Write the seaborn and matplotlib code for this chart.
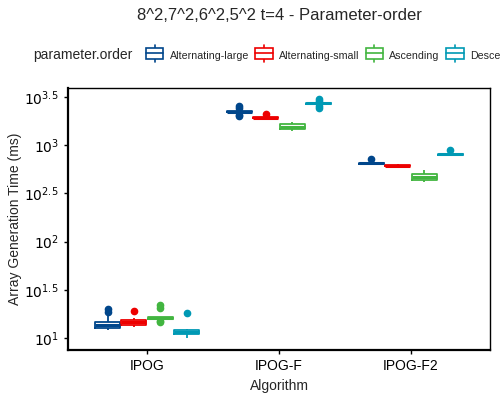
import numpy as np
import pandas as pd
import matplotlib
matplotlib.use("Agg")
import matplotlib.pyplot as plt
import seaborn as sns
from matplotlib.legend_handler import HandlerBase
from matplotlib.patches import Rectangle
from matplotlib.lines import Line2D

algorithms = ["IPOG", "IPOG-F", "IPOG-F2"]
orders = ["Alternating-large", "Alternating-small", "Ascending", "Descending"]
palette = ["#00468B", "#ED0000", "#42B540", "#0099B4"]

# run times in ms, one list per (algorithm, parameter order)
ipog_alt_large = [12.1, 12.4, 12.6, 12.8, 13.2, 13.5, 13.65, 13.9, 14.2, 14.58, 17.4, 18.7, 20.0]
ipog_alt_small = [12.9, 13.4, 13.76, 14.3, 14.68, 15.0, 15.4, 16.2, 19.1]
ipog_ascending = [14.7, 15.0, 15.85, 15.9, 16.0, 16.1, 16.16, 16.2, 16.3, 16.4, 16.5, 20.5, 22.1]
ipog_descending = [10.07, 10.5, 10.93, 11.3, 11.55, 11.8, 12.12, 12.3, 18.07]

ipogf_alt_large = [2018, 2080, 2170, 2190, 2200, 2215, 2223, 2230, 2240, 2250, 2265, 2420, 2530]
ipogf_alt_small = [1880, 1895, 1905, 1915, 1925, 1935, 1945, 1960, 2103]
ipogf_ascending = [1410, 1430, 1457, 1500, 1549, 1600, 1643, 1690, 1722]
ipogf_descending = [2427, 2550, 2660, 2680, 2695, 2705, 2716, 2725, 2735, 2750, 2770, 2900, 3012]

ipogf2_alt_large = [632, 636, 640, 645, 649, 652, 658, 662, 715]
ipogf2_alt_small = [595, 602, 608, 612, 615, 618, 622, 630, 636]
ipogf2_ascending = [415, 425, 435, 450, 466, 480, 499, 520, 550]
ipogf2_descending = [785, 790, 795, 800, 805, 810, 815, 822, 887]

groups = {
    ("IPOG", "Alternating-large"): ipog_alt_large,
    ("IPOG", "Alternating-small"): ipog_alt_small,
    ("IPOG", "Ascending"): ipog_ascending,
    ("IPOG", "Descending"): ipog_descending,
    ("IPOG-F", "Alternating-large"): ipogf_alt_large,
    ("IPOG-F", "Alternating-small"): ipogf_alt_small,
    ("IPOG-F", "Ascending"): ipogf_ascending,
    ("IPOG-F", "Descending"): ipogf_descending,
    ("IPOG-F2", "Alternating-large"): ipogf2_alt_large,
    ("IPOG-F2", "Alternating-small"): ipogf2_alt_small,
    ("IPOG-F2", "Ascending"): ipogf2_ascending,
    ("IPOG-F2", "Descending"): ipogf2_descending,
}

rows = []
for (alg, order), vals in groups.items():
    for v in vals:
        rows.append({"Algorithm": alg, "parameter.order": order, "time": v})
df = pd.DataFrame(rows)

sns.set_style("white")
plt.rcParams["font.family"] = ["Liberation Sans", "DejaVu Sans"]

fig = plt.figure(figsize=(5, 4), dpi=100)
ax = fig.add_axes([0.136, 0.125, 0.844, 0.655])

sns.boxplot(
    data=df, x="Algorithm", y="time", hue="parameter.order",
    order=algorithms, hue_order=orders, palette=palette,
    width=0.8, gap=0.05, fill=False, linewidth=1.3, showcaps=False,
    medianprops={"linewidth": 2.2},
    flierprops={"marker": "o", "markersize": 4.5},
    log_scale=True, legend=False, ax=ax,
)
# filled outliers in group colour
for line in ax.lines:
    if line.get_marker() == "o":
        line.set_markerfacecolor(line.get_markeredgecolor())

ax.set_xlim(-0.6, 2.6)
ax.set_ylim(10 ** 0.875, 10 ** 3.594)
exps = [1, 1.5, 2, 2.5, 3, 3.5]
ax.set_yticks([10 ** e for e in exps])
ax.set_yticklabels([f"$10^{{{e:g}}}$" for e in exps])
ax.minorticks_off()
ax.tick_params(axis="both", length=3, width=1, colors="black", labelsize=10, direction="out")
ax.tick_params(left=True, bottom=True)
ax.set_xlabel("Algorithm", fontsize=10)
ax.set_ylabel("Array Generation Time (ms)", fontsize=10, labelpad=2)
for side, sp in ax.spines.items():
    sp.set_visible(True)
    sp.set_color("black")
    sp.set_linewidth(1.0)
ax.spines["left"].set_linewidth(1.6)
ax.spines["bottom"].set_linewidth(1.6)

fig.text(0.558, 0.96, "8^2,7^2,6^2,5^2 t=4 - Parameter-order",
         ha="center", va="center", fontsize=12)


class BoxKey(HandlerBase):
    def create_artists(self, legend, orig, x0, y0, width, height, fontsize, trans):
        c = orig.get_color()
        cx = x0 + width / 2
        y0 = y0 - height * 0.15
        lo, hi = y0 - height * 0.05, y0 + height * 1.05
        box = Rectangle((x0 + 1, lo), width - 2, hi - lo,
                        facecolor="white", edgecolor=c, linewidth=1.2, transform=trans)
        mid = (lo + hi) / 2
        med = Line2D([x0 + 1, x0 + width - 1], [mid, mid], color=c, lw=1.2, transform=trans)
        w1 = Line2D([cx, cx], [y0 - height * 0.3, lo], color=c, lw=1.2, transform=trans)
        w2 = Line2D([cx, cx], [hi, y0 + height * 1.3], color=c, lw=1.2, transform=trans)
        return [w1, w2, box, med]


handles = [Line2D([], [], color=c) for c in palette]
fig.text(0.066, 0.862, "parameter.order", ha="left", va="center", fontsize=10)
fig.legend(handles, orders, handler_map={Line2D: BoxKey()},
           loc="center left", bbox_to_anchor=(0.289, 0.862), ncol=4,
           frameon=False, fontsize=7.7, handlelength=1.9, handleheight=1.1,
           handletextpad=0.45, columnspacing=0.45, borderaxespad=0, borderpad=0)

fig.savefig("out.png", dpi=100)
